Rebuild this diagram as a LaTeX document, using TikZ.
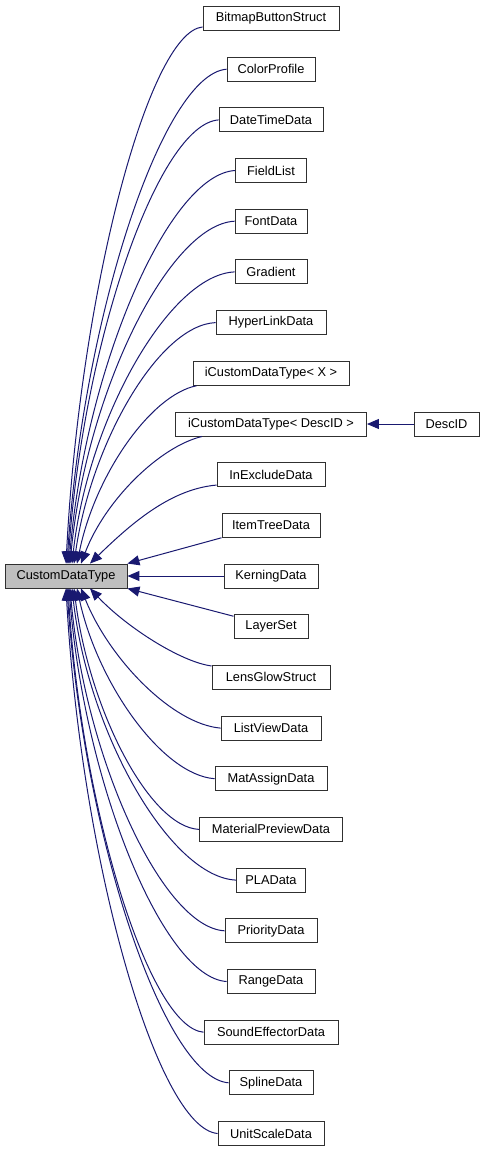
\documentclass[tikz,border=0pt]{standalone}
\usepackage{fontspec}
\setmainfont{Liberation Sans}
\usetikzlibrary{arrows.meta,calc}
\definecolor{edgeblue}{HTML}{191970}
\definecolor{rootgray}{HTML}{BFBFBF}
\definecolor{boxline}{HTML}{303030}
\tikzset{
  cls/.style={draw=boxline, line width=0.9pt, fill=white, minimum height=24pt, inner sep=0pt,
    font=\fontsize{12.8}{14}\selectfont},
  root/.style={cls, fill=rootgray},
  edge/.style={draw=edgeblue, line width=1pt, -{Triangle[length=12pt,width=10pt]}},
}
\newcommand\conn[6]{\draw[edge] let \p1=#1, \p2=#2 in (\p1) .. controls ({\x1-#3*(\x1-\x2)},{\y1+#4*(\y2-\y1)}) and ({\x2+#5*(\x1-\x2)},{\y1+#6*(\y2-\y1)}) .. (\p2);}
\begin{document}
\begin{tikzpicture}[x=1pt,y=-1pt]
\useasboundingbox (0,0) rectangle (484,1152);
\node[root, minimum width=122pt] (cdt) at (66,576) {CustomDataType};
\node[cls, minimum width=136pt] (bitmap) at (271,18.5) {BitmapButtonStruct};
\node[cls, minimum width=88pt] (color) at (271,69.2) {ColorProfile};
\node[cls, minimum width=104pt] (datetime) at (271,119.9) {DateTimeData};
\node[cls, minimum width=71pt] (field) at (271,170.5) {FieldList};
\node[cls, minimum width=72pt] (font) at (271,221.2) {FontData};
\node[cls, minimum width=72pt] (grad) at (271,271.9) {Gradient};
\node[cls, minimum width=110pt] (hyper) at (271,322.6) {HyperLinkData};
\node[cls, minimum width=156pt] (ix) at (271,373.3) {iCustomDataType< X >};
\node[cls, minimum width=191pt] (idesc) at (271,424.0) {iCustomDataType< DescID >};
\node[cls, minimum width=65pt] (descid) at (446.5,424.0) {DescID};
\node[cls, minimum width=108pt] (inex) at (271,474.6) {InExcludeData};
\node[cls, minimum width=98pt] (itemtree) at (271,525.3) {ItemTreeData};
\node[cls, minimum width=94pt] (kern) at (271,576.0) {KerningData};
\node[cls, minimum width=74pt] (layer) at (271,626.7) {LayerSet};
\node[cls, minimum width=118pt] (lens) at (271,677.4) {LensGlowStruct};
\node[cls, minimum width=100pt] (listview) at (271,728.1) {ListViewData};
\node[cls, minimum width=112pt] (matassign) at (271,778.7) {MatAssignData};
\node[cls, minimum width=143pt] (matprev) at (271,829.4) {MaterialPreviewData};
\node[cls, minimum width=69pt] (pla) at (271,880.1) {PLAData};
\node[cls, minimum width=92pt] (prio) at (271,930.8) {PriorityData};
\node[cls, minimum width=88pt] (range) at (271,981.5) {RangeData};
\node[cls, minimum width=134pt] (sound) at (271,1032.2) {SoundEffectorData};
\node[cls, minimum width=84pt] (spline) at (271,1082.8) {SplineData};
\node[cls, minimum width=106pt] (unit) at (271,1133.5) {UnitScaleData};
% upper fan
\conn{([yshift=4pt]bitmap.south west)}{(cdt.north)}{0.4}{0.01}{0.1}{0.5}
\conn{(color.west)}{([xshift=1pt]cdt.north)}{0.4}{0.01}{0.1}{0.5}
\conn{(datetime.west)}{([xshift=2pt]cdt.north)}{0.4}{0.01}{0.1}{0.5}
\conn{(field.west)}{([xshift=3pt]cdt.north)}{0.4}{0.01}{0.1}{0.5}
\conn{(font.west)}{([xshift=4pt]cdt.north)}{0.4}{0.01}{0.1}{0.5}
\conn{(grad.west)}{([xshift=6pt]cdt.north)}{0.4}{0.01}{0.1}{0.5}
\conn{(hyper.west)}{([xshift=8pt]cdt.north)}{0.4}{0.01}{0.12}{0.5}
\conn{([xshift=4pt]ix.south west)}{([xshift=11pt]cdt.north)}{0.38}{0.05}{0.15}{0.5}
\conn{([xshift=27pt]idesc.south west)}{([xshift=15pt]cdt.north)}{0.35}{0.08}{0.2}{0.5}
\conn{([yshift=2pt]inex.south west)}{([xshift=24pt]cdt.north)}{0.35}{0.05}{0.35}{0.45}
% straight
\draw[edge] (itemtree.south west) -- (cdt.north east);
\draw[edge] (kern.west) -- (cdt.east);
\draw[edge] ([yshift=-2pt]layer.north west) -- (cdt.south east);
\draw[edge] (descid.west) -- (idesc.east);
% lower fan
\conn{([yshift=-1pt]lens.north west)}{([xshift=24pt]cdt.south)}{0.25}{0.05}{0.3}{0.5}
\conn{(listview.west)}{([xshift=15pt]cdt.south)}{0.35}{0.03}{0.2}{0.5}
\conn{(matassign.west)}{([xshift=11pt]cdt.south)}{0.38}{0.02}{0.15}{0.5}
\conn{(matprev.west)}{([xshift=8pt]cdt.south)}{0.4}{0.01}{0.12}{0.5}
\conn{(pla.west)}{([xshift=6pt]cdt.south)}{0.4}{0.01}{0.1}{0.5}
\conn{(prio.west)}{([xshift=4pt]cdt.south)}{0.4}{0.01}{0.1}{0.5}
\conn{(range.west)}{([xshift=3pt]cdt.south)}{0.4}{0.01}{0.1}{0.5}
\conn{(sound.west)}{([xshift=2pt]cdt.south)}{0.4}{0.01}{0.1}{0.5}
\conn{(spline.west)}{([xshift=1pt]cdt.south)}{0.4}{0.01}{0.1}{0.5}
\conn{(unit.west)}{(cdt.south)}{0.4}{0.01}{0.1}{0.5}
\end{tikzpicture}
\end{document}
